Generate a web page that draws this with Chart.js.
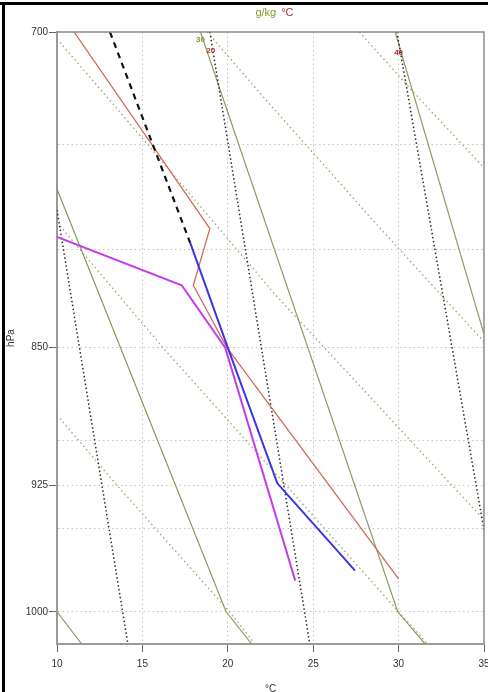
<!DOCTYPE html>
<html lang="en">
<head>
    <meta charset="UTF-8">
    <title>Sounding 700-1000 hPa</title>
    <script src="https://cdn.jsdelivr.net/npm/chart.js"></script>
    <style>
        html, body { margin: 0; padding: 0; background: #fff; overflow: hidden; }
        #wrap { position: relative; width: 488px; height: 692px; }
    </style>
</head>
<body>
<div id="wrap"><canvas id="skew" width="488" height="692"></canvas></div>
<script>
    // --- data (T in degC, p in hPa) ---
    // profiles
    const redT = [11.0, 18.95, 17.98, 19.95, 30.0];
    const redP = [700, 790, 818, 850, 980];
    const dashT = [13.1, 17.8];
    const dashP = [700, 797];
    const blueT = [17.8, 20.0, 22.9, 27.45];
    const blueP = [797, 850, 924, 975];
    const magT = [10.0, 17.3, 19.85, 23.95];
    const magP = [794, 818, 850, 981];

    // green solid lines
    const moist1T = [10.0, 19.9, 21.4];
    const moist1P = [771, 1000, 1020];
    const moist2T = [18.4, 29.95, 31.55];
    const moist2P = [700, 1000, 1020];
    const moist3T = [29.8, 35.0];
    const moist3P = [700, 843];
    const moist4T = [10.0, 11.45];
    const moist4P = [1000, 1020];

    // black dotted lines
    const mix10T = [10.0, 14.15];
    const mix10P = [781, 1020];
    const mix20T = [18.95, 24.8];
    const mix20P = [700, 1020];
    const mix40T = [29.9, 35.0];
    const mix40P = [700, 951];

    // green dotted lines
    const dry20T = [10.0, 13.5, 20.1, 21.6];
    const dry20P = [886, 925, 1000, 1020];
    const dry30T = [10.0, 16.2, 23.4, 30.0, 31.7];
    const dry30P = [787, 850, 925, 1000, 1020];
    const dry40T = [10.0, 15.3, 22.7, 35.0];
    const dry40P = [703, 750, 822, 945];
    const dry50T = [18.8, 21.9, 28.5, 35.0];
    const dry50P = [700, 727, 786, 847];
    const dry60T = [27.7, 31.3, 35.0];
    const dry60P = [700, 730, 761];

    // axes
    const pTicks = [700, 750, 800, 850, 900, 925, 950, 1000];
    const pLabels = [700, 850, 925, 1000];
    const tTicks = [10, 15, 20, 25, 30, 35];

    // small labels on the lines: text, T, p, colour
    const lineLabels = [
        ['30', 18.4, 703.5, '#7f9a2a'],
        ['20', 19.0, 708.0, '#b03030'],
        ['40', 30.0, 709.0, '#b03030']
    ];

    function pts(ts, ps) {
        return ts.map((t, i) => ({ x: t, y: ps[i] }));
    }

    function line(ts, ps, color, width, dash) {
        return {
            data: pts(ts, ps),
            borderColor: color,
            borderWidth: width,
            borderDash: dash || [],
            pointRadius: 0,
            tension: 0,
            fill: false
        };
    }

    const green = '#8e9b62';
    const greenDot = '#a3ab70';
    const dotBlack = '#2a2a2a';

    const datasets = [
        line(magT, magP, '#c83ce6', 2),
        line(blueT, blueP, '#3a36e0', 2),
        line(dashT, dashP, '#111111', 2.2, [6, 5]),
        line(redT, redP, '#d06a5c', 1.3),
        line(mix10T, mix10P, dotBlack, 1.5, [1.5, 2.5]),
        line(mix20T, mix20P, dotBlack, 1.5, [1.5, 2.5]),
        line(mix40T, mix40P, dotBlack, 1.5, [1.5, 2.5]),
        line(moist1T, moist1P, green, 1.2),
        line(moist2T, moist2P, green, 1.2),
        line(moist3T, moist3P, green, 1.2),
        line(moist4T, moist4P, green, 1.2),
        line(dry20T, dry20P, greenDot, 1.4, [1.5, 3]),
        line(dry30T, dry30P, greenDot, 1.4, [1.5, 3]),
        line(dry40T, dry40P, greenDot, 1.4, [1.5, 3]),
        line(dry50T, dry50P, greenDot, 1.4, [1.5, 3]),
        line(dry60T, dry60P, greenDot, 1.4, [1.5, 3])
    ];

    // frame, header and line labels
    const decor = {
        id: 'decor',
        afterDraw(chart) {
            const { ctx, chartArea: a, scales } = chart;
            ctx.save();
            // plot box top / right
            ctx.strokeStyle = '#8a8a8a';
            ctx.lineWidth = 1.5;
            ctx.beginPath();
            ctx.moveTo(a.left, a.top);
            ctx.lineTo(a.right, a.top);
            ctx.lineTo(a.right, a.bottom);
            ctx.stroke();

            // header "g/kg °C"
            ctx.font = '11px "Liberation Sans", Arial, sans-serif';
            ctx.textBaseline = 'middle';
            const s1 = 'g/kg', s2 = '°C';
            const w1 = ctx.measureText(s1).width;
            const w2 = ctx.measureText(s2).width;
            const gap = 5;
            let x0 = (a.left + a.right) / 2 + 4 - (w1 + gap + w2) / 2;
            ctx.fillStyle = '#7f9a2a';
            ctx.fillText(s1, x0, 13);
            ctx.fillStyle = '#b03030';
            ctx.fillText(s2, x0 + w1 + gap, 13);

            // small labels
            ctx.font = 'bold 8px "Liberation Sans", Arial, sans-serif';
            ctx.textAlign = 'center';
            lineLabels.forEach(([txt, t, p, c]) => {
                ctx.fillStyle = c;
                ctx.fillText(txt, scales.x.getPixelForValue(t), scales.y.getPixelForValue(p));
            });

            // outer black frame (top, left)
            ctx.fillStyle = '#000';
            ctx.fillRect(0, 2, chart.width, 3);
            ctx.fillRect(2, 2, 3, chart.height);
            ctx.restore();
        }
    };

    new Chart(document.getElementById('skew'), {
        type: 'line',
        data: { datasets },
        options: {
            responsive: false,
            animation: false,
            events: [],
            layout: { padding: { top: 32, right: 4, left: 0, bottom: 0 } },
            plugins: {
                legend: { display: false },
                tooltip: { enabled: false }
            },
            scales: {
                x: {
                    type: 'linear',
                    min: 10,
                    max: 35,
                    afterBuildTicks: s => { s.ticks = tTicks.map(v => ({ value: v })); },
                    afterFit: s => { s.height = 48; s.paddingLeft = 0; s.paddingRight = 0; },
                    ticks: {
                        color: '#333',
                        padding: 6,
                        maxRotation: 0,
                        font: { family: '"Liberation Sans", Arial, sans-serif', size: 10 }
                    },
                    grid: {
                        color: ctx => (ctx.tick && (ctx.tick.value === 10 || ctx.tick.value === 35)) ? 'transparent' : '#c4c4c4',
                        lineWidth: 1,
                        tickLength: 8,
                        tickColor: '#666',
                        tickWidth: 1
                    },
                    border: { display: true, color: '#9a9a9a', width: 2, dash: [1.5, 3] },
                    title: {
                        display: true,
                        text: '°C',
                        color: '#333',
                        padding: { top: 0, bottom: -3 },
                        font: { family: '"Liberation Sans", Arial, sans-serif', size: 10 }
                    }
                },
                y: {
                    type: 'logarithmic',
                    reverse: true,
                    min: 700,
                    max: 1020,
                    afterBuildTicks: s => { s.ticks = pTicks.map(v => ({ value: v })); },
                    afterFit: s => { s.width = 57; s.paddingTop = 0; s.paddingBottom = 0; },
                    ticks: {
                        color: '#333',
                        padding: 1,
                        autoSkip: false,
                        font: { family: '"Liberation Sans", Arial, sans-serif', size: 10 },
                        callback: v => pLabels.includes(v) ? String(v) : ''
                    },
                    grid: {
                        color: ctx => (ctx.tick && ctx.tick.value === 700) ? 'transparent' : '#c4c4c4',
                        lineWidth: 1,
                        tickLength: 8,
                        tickColor: ctx => (ctx.tick && pLabels.includes(ctx.tick.value)) ? '#666' : 'transparent',
                        tickWidth: 1
                    },
                    border: { display: true, color: '#9a9a9a', width: 2, dash: [1.5, 3] },
                    title: {
                        display: true,
                        text: 'hPa',
                        color: '#333',
                        padding: { top: 5, bottom: 0 },
                        font: { family: '"Liberation Sans", Arial, sans-serif', size: 10 }
                    }
                }
            }
        },
        plugins: [decor]
    });
</script>
</body>
</html>
